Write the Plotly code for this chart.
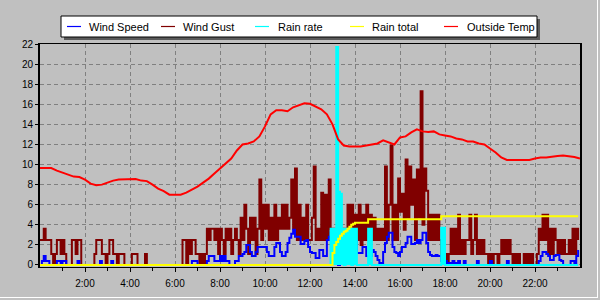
import plotly.graph_objects as go

# ---------------- data ----------------
series_names = ["Wind Speed", "Wind Gust", "Rain rate", "Rain total", "Outside Temp"]
series_colors = ["#0000FF", "#800000", "#00FFFF", "#FFFF00", "#FF0000"]

x_tick_vals = [2, 4, 6, 8, 10, 12, 14, 16, 18, 20, 22]
x_tick_text = ["2:00", "4:00", "6:00", "8:00", "10:00", "12:00", "14:00",
               "16:00", "18:00", "20:00", "22:00"]
y_tick_vals = [0, 2, 4, 6, 8, 10, 12, 14, 16, 18, 20, 22]

# 5-minute samples, one row per hour (00:00 .. 23:55)
wind_gust = [
    2.5, 2.5, 3.6, 2.5, 2.5, 2.5, 1.1, 0, 1.1, 2.5, 2.5, 1.1,
    2.5, 1.1, 0, 0, 0, 2.5, 2.5, 1.1, 2.5, 2.5, 0, 0,
    0, 0, 0, 0, 0, 1.1, 2.5, 2.5, 2.5, 1.1, 1.1, 0,
    1.1, 2.5, 2.5, 1.1, 1.1, 0, 1.1, 1.1, 1.1, 0, 0, 0,
    0, 1.1, 1.1, 1.1, 0, 0, 0, 0, 1.1, 0, 0, 0,
    0, 0, 0, 0, 0, 0, 0, 0, 0, 0, 0, 0,
    0, 0, 0, 0, 2.5, 2.5, 0, 2.5, 1.1, 2.5, 2.5, 1.1,
    1.1, 0, 1.1, 0, 1.1, 3.6, 2.5, 3.6, 3.6, 2.5, 3.6, 1.1,
    3.6, 2.5, 1.1, 3.6, 2.5, 3.6, 1.1, 2.5, 3.6, 2.5, 1.1, 4.7,
    2.5, 6.0, 3.6, 1.1, 4.7, 2.5, 4.7, 1.1, 3.6, 8.5, 2.5, 6.0,
    3.6, 6.0, 2.5, 4.7, 2.5, 6.0, 2.5, 4.7, 3.6, 6.0, 3.6, 6.0,
    3.6, 4.7, 8.5, 3.6, 9.6, 2.5, 6.0, 2.5, 4.7, 2.5, 6.0, 2.5,
    2.5, 4.7, 9.8, 2.5, 3.6, 2.5, 7.2, 2.5, 7.0, 2.5, 8.5, 3.6,
    2.5, 3.6, 1.1, 0, 2.5, 3.6, 2.5, 3.6, 6.0, 2.5, 6.0, 3.6,
    5.0, 2.5, 6.0, 2.0, 5.0, 2.5, 6.0, 2.5, 5.0, 2.5, 4.7, 2.5,
    3.6, 2.5, 3.6, 2.5, 9.8, 2.5, 6.0, 11.9, 2.5, 6.0, 2.5, 8.6,
    5.3, 7.1, 3.5, 10.5, 4.7, 9.8, 6.0, 8.5, 2.5, 9.5, 4.7, 17.3,
    4.0, 9.6, 7.4, 2.5, 5.0, 2.5, 5.0, 2.5, 5.0, 2.5, 1.1, 2.5,
    1.1, 0, 1.1, 3.6, 1.1, 3.6, 1.1, 5.0, 1.1, 2.5, 1.1, 2.5,
    2.5, 5.0, 1.1, 2.5, 5.0, 1.1, 2.5, 1.1, 2.5, 1.1, 1.1, 0,
    1.1, 0, 1.1, 1.1, 0, 1.1, 2.5, 1.1, 2.5, 1.1, 2.5, 1.1,
    0, 1.1, 0, 1.1, 0, 0, 1.1, 0, 1.1, 0, 1.1, 0,
    0, 1.1, 3.6, 2.5, 5.0, 2.5, 5.0, 1.1, 3.6, 1.1, 3.6, 2.5,
    1.1, 2.5, 1.1, 2.5, 1.1, 1.1, 2.5, 1.1, 3.6, 1.1, 3.6, 2.5,
]

wind_speed = [
    0, 0.4, 0.9, 0.4, 0.4, 0, 0, 0, 0, 0.4, 0.4, 0,
    0.4, 0.4, 0, 0, 0, 0, 0, 0, 0.4, 0, 0, 0,
    0, 0, 0, 0, 0, 0, 0, 0, 0.4, 0, 0, 0,
    0, 0, 0.4, 0, 0, 0, 0, 0, 0, 0, 0, 0,
    0, 0, 0, 0, 0, 0, 0, 0, 0, 0, 0, 0,
    0, 0, 0, 0, 0, 0, 0, 0, 0, 0, 0, 0,
    0, 0, 0, 0, 0, 0, 0, 0, 0, 0.4, 0.4, 0.4,
    0, 0, 0, 0, 0, 0.4, 0.9, 0.9, 0.9, 0.4, 0.4, 0.4,
    0.9, 0.4, 0.9, 0.4, 0.4, 0, 0, 0, 0.4, 0.4, 0.9, 0.9,
    1.1, 1.3, 2.0, 2.0, 1.3, 0.9, 0.9, 1.3, 1.8, 1.8, 1.8, 1.8,
    1.8, 1.3, 0.9, 0.9, 0.9, 1.8, 2.2, 2.2, 1.3, 0.9, 0.9, 1.3,
    2.2, 2.7, 3.1, 3.5, 2.8, 2.8, 2.8, 2.1, 2.1, 2.4, 2.5, 1.8,
    1.3, 1.2, 1.2, 0.7, 0.7, 1.5, 1.5, 0.9, 0.9, 2.5, 2.8, 3.2,
    2.0, 1.0, 0.2, 0, 0.9, 1.2, 1.8, 2.5, 2.8, 3.2, 2.8, 3.0,
    2.5, 1.2, 1.2, 1.2, 1.8, 1.8, 0.9, 0.9, 0.9, 1.5, 1.3, 0.9,
    0.5, 0.2, 0.2, 1.3, 2.2, 2.8, 3.2, 3.2, 1.8, 1.3, 1.2, 0.9,
    1.3, 1.8, 1.8, 2.2, 2.8, 2.8, 2.1, 2.1, 2.2, 2.5, 2.2, 2.5,
    3.2, 3.2, 2.2, 1.3, 1.0, 0.9, 0.9, 1.0, 0.9, 0.9, 0.4, 0.4,
    0.4, 0.2, 0.2, 0.2, 0.4, 0.2, 0, 0.4, 0, 0, 0.4, 0,
    0, 0, 0, 0, 0, 0.4, 0, 0, 0, 0, 0, 0,
    0.4, 0, 0, 0, 0, 0, 0, 0, 0, 0.4, 0, 0,
    0, 0, 0, 0, 0, 0, 0, 0, 0, 0, 0, 0,
    0, 0, 0.4, 0.9, 1.3, 1.3, 1.1, 0.9, 0.5, 0.5, 0.9, 1.0,
    1.0, 0.5, 0.4, 0, 0, 0, 0, 0.4, 0.4, 0, 0.9, 1.5,
]

rain_rate = [
    0, 0, 0, 0, 0, 0, 0, 0, 0, 0, 0, 0,
    0, 0, 0, 0, 0, 0, 0, 0, 0, 0, 0, 0,
    0, 0, 0, 0, 0, 0, 0, 0, 0, 0, 0, 0,
    0, 0, 0, 0, 0, 0, 0, 0, 0, 0, 0, 0,
    0, 0, 0, 0, 0, 0, 0, 0, 0, 0, 0, 0,
    0, 0, 0, 0, 0, 0, 0, 0, 0, 0, 0, 0,
    0, 0, 0, 0, 0, 0, 0, 0, 0, 0, 0, 0,
    0, 0, 0, 0, 0, 0, 0, 0, 0, 0, 0, 0,
    0, 0, 0, 0, 0, 0, 0, 0, 0, 0, 0, 0,
    0, 0, 0, 0, 0, 0, 0, 0, 0, 0, 0, 0,
    0, 0, 0, 0, 0, 0, 0, 0, 0, 0, 0, 0,
    0, 0, 0, 0, 0, 0, 0, 0, 0, 0, 0, 0,
    0, 0, 0, 0, 0, 0, 0, 0, 0, 0, 0, 3.6,
    3.6, 3.6, 21.7, 7.3, 7.1, 3.6, 0, 3.6, 3.4, 3.6, 0, 3.6,
    3.6, 0, 0, 0, 0, 0, 0, 3.6, 3.6, 0, 0, 0,
    0, 0, 0, 0, 0, 0, 0, 0, 0, 0, 0, 0,
    0, 0, 0, 0, 0, 0, 0, 0, 0, 0, 0, 0,
    0, 0, 0, 0, 0, 0, 0, 0, 0, 0, 3.7, 3.7,
    0, 0, 0, 0, 0, 0, 0, 0, 0, 0, 0, 0,
    0, 0, 0, 0, 0, 0, 0, 0, 0, 0, 0, 0,
    0, 0, 0, 0, 0, 0, 0, 0, 0, 0, 0, 0,
    0, 0, 0, 0, 0, 0, 0, 0, 0, 0, 0, 0,
    0, 0, 0, 0, 0, 0, 0, 0, 0, 0, 0, 0,
    0, 0, 0, 0, 0, 0, 0, 0, 0, 0, 0, 0,
]

rain_total = [
    0, 0, 0, 0, 0, 0, 0, 0, 0, 0, 0, 0,
    0, 0, 0, 0, 0, 0, 0, 0, 0, 0, 0, 0,
    0, 0, 0, 0, 0, 0, 0, 0, 0, 0, 0, 0,
    0, 0, 0, 0, 0, 0, 0, 0, 0, 0, 0, 0,
    0, 0, 0, 0, 0, 0, 0, 0, 0, 0, 0, 0,
    0, 0, 0, 0, 0, 0, 0, 0, 0, 0, 0, 0,
    0, 0, 0, 0, 0, 0, 0, 0, 0, 0, 0, 0,
    0, 0, 0, 0, 0, 0, 0, 0, 0, 0, 0, 0,
    0, 0, 0, 0, 0, 0, 0, 0, 0, 0, 0, 0,
    0, 0, 0, 0, 0, 0, 0, 0, 0, 0, 0, 0,
    0, 0, 0, 0, 0, 0, 0, 0, 0, 0, 0, 0,
    0, 0, 0, 0, 0, 0, 0, 0, 0, 0, 0, 0,
    0, 0, 0, 0, 0, 0, 0, 0, 0, 0, 0, 0,
    1.2, 2.0, 2.3, 2.6, 2.9, 3.1, 3.3, 3.4, 3.6, 3.8, 4.0, 4.1,
    4.2, 4.2, 4.2, 4.2, 4.2, 4.2, 4.2, 4.55, 4.55, 4.55, 4.55, 4.55,
    4.55, 4.55, 4.55, 4.55, 4.55, 4.55, 4.55, 4.55, 4.55, 4.55, 4.55, 4.55,
    4.55, 4.55, 4.55, 4.55, 4.55, 4.55, 4.55, 4.55, 4.55, 4.55, 4.55, 4.55,
    4.55, 4.55, 4.55, 4.55, 4.55, 4.55, 4.55, 4.55, 4.55, 4.55, 4.85, 4.85,
    4.85, 4.85, 4.85, 4.85, 4.85, 4.85, 4.85, 4.85, 4.85, 4.85, 4.85, 4.85,
    4.85, 4.85, 4.85, 4.85, 4.85, 4.85, 4.85, 4.85, 4.85, 4.85, 4.85, 4.85,
    4.85, 4.85, 4.85, 4.85, 4.85, 4.85, 4.85, 4.85, 4.85, 4.85, 4.85, 4.85,
    4.85, 4.85, 4.85, 4.85, 4.85, 4.85, 4.85, 4.85, 4.85, 4.85, 4.85, 4.85,
    4.85, 4.85, 4.85, 4.85, 4.85, 4.85, 4.85, 4.85, 4.85, 4.85, 4.85, 4.85,
    4.85, 4.85, 4.85, 4.85, 4.85, 4.85, 4.85, 4.85, 4.85, 4.85, 4.85, 4.85,
]

# 15-minute samples, 00:00 .. 24:00
outside_temp = [
    9.65, 9.65, 9.65, 9.4, 9.2, 9.0, 8.8, 8.75,
    8.5, 8.1, 7.95, 8.0, 8.2, 8.4, 8.5, 8.5,
    8.5, 8.55, 8.4, 8.35, 8.0, 7.6, 7.35, 7.0,
    7.0, 7.0, 7.2, 7.5, 7.8, 8.2, 8.6, 9.1,
    9.6, 10.1, 10.6, 11.4, 12.0, 12.1, 12.3, 12.8,
    13.8, 15.0, 15.4, 15.4, 15.3, 15.7, 15.9, 16.1,
    16.05, 15.8, 15.5, 15.0, 14.0, 12.5, 11.9, 11.8,
    11.8, 11.8, 11.9, 12.0, 12.1, 12.4, 12.2, 12.0,
    12.7, 12.8, 13.2, 13.5, 13.3, 13.25, 13.3, 13.0,
    12.9, 12.8, 12.6, 12.5, 12.3, 12.3, 12.1, 12.0,
    11.6, 11.2, 10.7, 10.45, 10.45, 10.45, 10.45, 10.45,
    10.6, 10.7, 10.7, 10.8, 10.85, 10.9, 10.85, 10.75,
    10.6,
]

times5 = [i / 12 for i in range(len(wind_gust))]
times15 = [i / 4 for i in range(len(outside_temp))]

# ---------------- figure ----------------
FONT = "Liberation Sans, Arial, sans-serif"
W, H = 600, 300
ML, MR, MT, MB = 40, 20, 44, 33
PW, PH = W - ML - MR, H - MT - MB


def px_x(px):
    return (px - ML) / PW


def px_y(py):
    return (H - MB - py) / PH


fig = go.Figure()
# (series index, x, y, line shape, fill)
draw = [
    (1, times5, wind_gust, "hv", "none"),
    (0, times5, wind_speed, "hv", "none"),
    (2, times5, rain_rate, "hv", "tozeroy"),
    (3, times5, rain_total, "hv", "none"),
    (4, times15, outside_temp, "linear", "none"),
]
for k, xs, ys, shape, fill in draw:
    fig.add_trace(go.Scatter(
        x=xs, y=ys, mode="lines", name=series_names[k],
        line=dict(color=series_colors[k], width=2, shape=shape),
        fill=fill, fillcolor=series_colors[k],
        showlegend=False, hoverinfo="skip",
    ))

shapes = []
annotations = []
# legend shadow + box
shapes.append(dict(type="rect", xref="paper", yref="paper",
                   x0=px_x(64), x1=px_x(540), y0=px_y(40), y1=px_y(19),
                   fillcolor="#5a5a5a", line=dict(width=0)))
shapes.append(dict(type="rect", xref="paper", yref="paper",
                   x0=px_x(61), x1=px_x(537), y0=px_y(37), y1=px_y(16),
                   fillcolor="#FFFFFF", line=dict(color="#000000", width=1)))
leg_line_x = [67, 161, 255, 350, 444]
leg_text_x = [87, 181, 276, 370, 465]
for k in range(5):
    shapes.append(dict(type="line", xref="paper", yref="paper",
                       x0=px_x(leg_line_x[k]), x1=px_x(leg_line_x[k] + 14),
                       y0=px_y(26.5), y1=px_y(26.5),
                       line=dict(color=series_colors[k], width=1.2)))
    annotations.append(dict(xref="paper", yref="paper",
                            x=px_x(leg_text_x[k]), y=px_y(26.5),
                            text=series_names[k], showarrow=False,
                            xanchor="left", yanchor="middle",
                            font=dict(family=FONT, size=11, color="#000000")))
# window bevel (right / bottom)
shapes.append(dict(type="line", xref="paper", yref="paper",
                   x0=px_x(597.5), x1=px_x(597.5), y0=px_y(0), y1=px_y(298),
                   line=dict(color="#FFFFFF", width=1)))
shapes.append(dict(type="line", xref="paper", yref="paper",
                   x0=px_x(0), x1=px_x(598), y0=px_y(297.5), y1=px_y(297.5),
                   line=dict(color="#FFFFFF", width=1)))

fig.update_layout(
    width=W, height=H, autosize=False,
    margin=dict(l=ML, r=MR, t=MT, b=MB, pad=0),
    paper_bgcolor="#C0C0C0", plot_bgcolor="#C0C0C0",
    font=dict(family=FONT, size=10, color="#000000"),
    showlegend=False,
    shapes=shapes, annotations=annotations,
    xaxis=dict(
        range=[0, 24], tickmode="array", tickvals=x_tick_vals, ticktext=x_tick_text,
        showgrid=True, gridcolor="#808080", gridwidth=1, griddash="4px,3px",
        showline=True, linecolor="#000000", linewidth=1, mirror=True,
        ticks="outside", ticklen=4, tickcolor="#000000", tickwidth=1,
        minor=dict(tickmode="array", tickvals=[1, 3, 5, 7, 9, 11, 13, 15, 17, 19, 21, 23],
                   ticks="outside", ticklen=3, tickcolor="#000000", showgrid=False),
        zeroline=False, tickfont=dict(family=FONT, size=10, color="#000000"),
        ticklabelstandoff=3,
    ),
    yaxis=dict(
        range=[-0.2, 22], tickmode="array", tickvals=y_tick_vals,
        showgrid=True, gridcolor="#808080", gridwidth=1, griddash="4px,3px",
        showline=True, linecolor="#000000", linewidth=2, mirror=True,
        ticks="outside", ticklen=3, tickcolor="#000000",
        zeroline=False, tickfont=dict(family=FONT, size=10, color="#000000"),
    ),
)

fig.write_html("out.html")
